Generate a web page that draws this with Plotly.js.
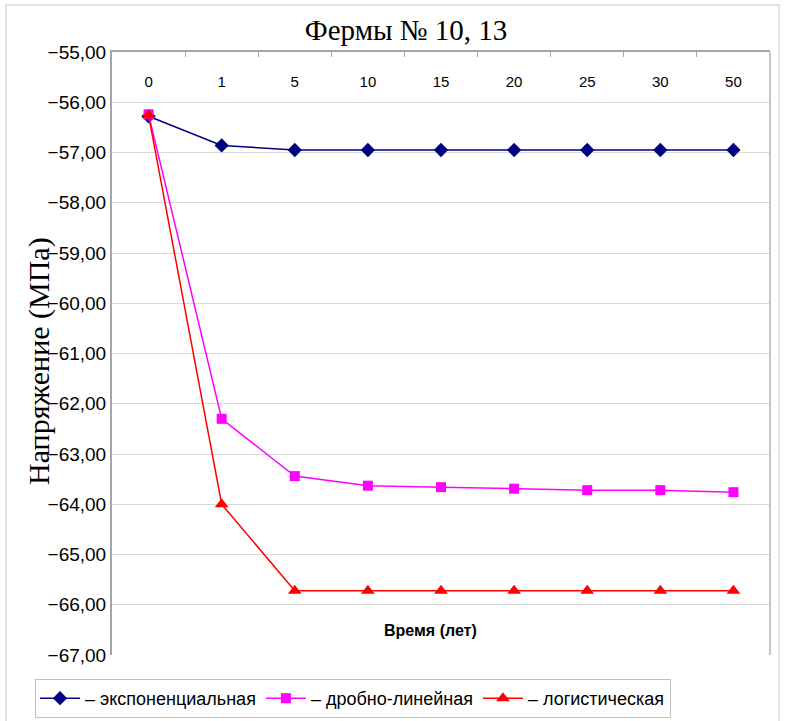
<!DOCTYPE html>
<html>
<head>
<meta charset="utf-8">
<script src="https://cdn.plot.ly/plotly-3.0.1.min.js"></script>
<style>html,body{margin:0;padding:0;background:#fff;}#chart{width:785px;height:721px;}</style>
</head>
<body>
<div id="chart"></div>
<script>
const categories = ["0", "1", "5", "10", "15", "20", "25", "30", "50"];
const expValues = [-56.28, -56.86, -56.95, -56.95, -56.95, -56.95, -56.95, -56.95, -56.95];
const fracValues = [-56.24, -62.30, -63.44, -63.63, -63.66, -63.69, -63.72, -63.72, -63.76];
const logValues = [-56.26, -64.00, -65.72, -65.72, -65.72, -65.72, -65.72, -65.72, -65.72];
const yTickVals = [-67, -66, -65, -64, -63, -62, -61, -60, -59, -58, -57, -56, -55];
const seriesNames = ["– экспоненциальная", "– дробно-линейная", "– логистическая"];

const W = 785, H = 721;
const L = 112, R = 770, T = 52, B = 655;
const px = x => (x - L) / (R - L);
const py = y => (B - y) / (B - T);

const idx = categories.map((c, i) => i);
const boundaries = categories.slice(1).map((c, i) => i + 0.5);
const xRange = [-0.5, categories.length - 0.5];

const traces = [
  {x: idx, y: expValues, name: seriesNames[0], type: 'scatter', mode: 'lines+markers', legendgroup: 'a',
   line: {color: '#000080', width: 1.5}, marker: {symbol: 'diamond', size: 11, color: '#000080'}},
  {x: idx, y: fracValues, name: seriesNames[1], type: 'scatter', mode: 'lines+markers', legendgroup: 'b',
   line: {color: '#ff00ff', width: 1.5}, marker: {symbol: 'square', size: 10, color: '#ff00ff'}},
  {x: idx, y: logValues, name: seriesNames[2], type: 'scatter', mode: 'lines+markers', legendgroup: 'c',
   line: {color: '#ff0000', width: 1.5}, marker: {symbol: 'triangle-up', size: 12, color: '#ff0000'}},
  // carrier for the category-label axis (draws nothing)
  {x: idx, y: idx.map(() => null), xaxis: 'x2', yaxis: 'y', type: 'scatter', mode: 'lines',
   showlegend: false, hoverinfo: 'skip', line: {width: 0}}
];

const layout = {
  width: W, height: H,
  margin: {l: L, r: W - R, t: T, b: H - B, pad: 0, autoexpand: false},
  paper_bgcolor: '#fff', plot_bgcolor: '#fff',
  separators: ', ',
  font: {family: 'Liberation Sans, Arial, sans-serif', color: '#000'},
  showlegend: true,
  title: {text: 'Фермы № 10, 13', font: {family: 'Liberation Serif, Times New Roman, serif', size: 29, color: '#000'},
          x: px(406), xref: 'paper', xanchor: 'center', y: 1 - 30 / H, yanchor: 'middle'},
  xaxis: {range: xRange, autorange: false, side: 'top',
          showline: true, linecolor: '#a6a6a6', linewidth: 2,
          tickmode: 'array', tickvals: boundaries, ticks: 'inside', ticklen: 5, tickcolor: '#a6a6a6',
          showticklabels: false, showgrid: false, zeroline: false, fixedrange: true},
  xaxis2: {overlaying: 'x', anchor: 'free', position: py(71), side: 'bottom',
           range: xRange, autorange: false,
           tickmode: 'array', tickvals: idx, ticktext: categories, ticks: '',
           showline: false, showgrid: false, zeroline: false, tickfont: {size: 15}, fixedrange: true},
  yaxis: {range: [-67, -55], autorange: false, tickmode: 'array', tickvals: yTickVals, tickformat: '.2f',
          showline: true, linecolor: '#a6a6a6', linewidth: 2,
          gridcolor: '#d9d9d9', gridwidth: 1, zeroline: false,
          ticks: '', tickfont: {size: 19}, ticklabelstandoff: 0,
          fixedrange: true},
  legend: {orientation: 'h', xref: 'container', yref: 'container', x: 35 / W, xanchor: 'left', y: 1 - 679 / H, yanchor: 'top',
           bordercolor: '#c0c0c0', borderwidth: 1, bgcolor: '#fff',
           font: {size: 18}, itemwidth: 40, tracegroupgap: 10},
  annotations: [
    {text: '<b>Время (лет)</b>', xref: 'paper', yref: 'paper', x: px(430), y: py(630),
     xanchor: 'center', yanchor: 'middle', showarrow: false, font: {size: 16}},
    {text: 'Напряжение (МПа)', xref: 'paper', yref: 'paper', x: px(39), y: py(361), textangle: -90,
     xanchor: 'center', yanchor: 'middle', showarrow: false,
     font: {family: 'Liberation Serif, Times New Roman, serif', size: 30}}
  ],
  shapes: [
    {type: 'line', xref: 'paper', yref: 'paper', x0: 1, x1: 1, y0: 0, y1: 1, line: {color: '#b3b3b3', width: 1.5}},
    {type: 'rect', xref: 'paper', yref: 'paper', x0: px(6), x1: px(779), y0: py(5), y1: py(722), line: {color: '#d9d9d9', width: 1.5}, layer: 'below'}
  ]
};

Plotly.newPlot('chart', traces, layout, {displayModeBar: false, staticPlot: true});
</script>
</body>
</html>
